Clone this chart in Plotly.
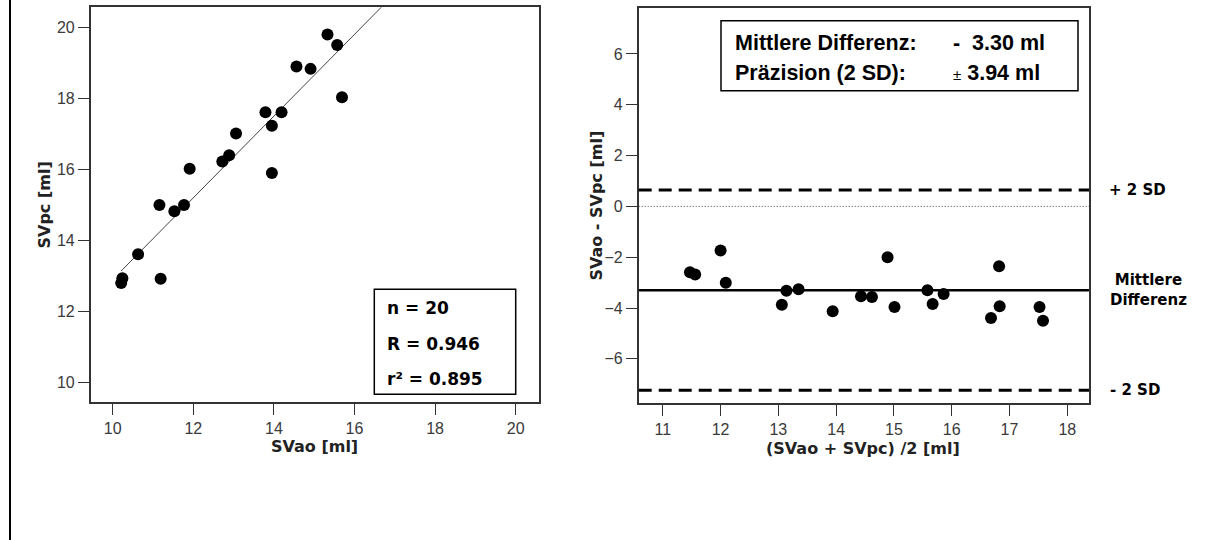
import numpy as np
import plotly.graph_objects as go

W, H = 1220, 540

# Schlagvolumen: Aortenfluss vs. Pulskontur (ml)
sv_ao = [15.33, 15.57, 14.56, 14.91, 15.69, 13.79, 14.19, 13.95, 13.06, 12.89,
         12.72, 11.91, 13.95, 11.16, 11.77, 11.53, 10.63, 11.19, 10.24, 10.21]
sv_pc = [19.80, 19.50, 18.90, 18.83, 18.03, 17.61, 17.61, 17.23, 17.01, 16.40,
         16.22, 16.02, 15.90, 15.00, 15.00, 14.82, 13.61, 12.92, 12.94, 12.80]

# Bland-Altman: Mittelwert und Differenz je Messung
ba_mean = [11.47, 11.56, 12.00, 12.09, 13.06, 13.14, 13.35, 13.94, 14.43, 14.62,
           14.89, 15.01, 15.58, 15.67, 15.86, 16.68, 16.82, 16.83, 17.52, 17.58]
ba_diff = [-2.59, -2.68, -1.74, -3.01, -3.87, -3.32, -3.26, -4.13, -3.54, -3.57,
           -2.00, -3.96, -3.30, -3.84, -3.45, -4.39, -2.36, -3.93, -3.96, -4.50]

mean_diff = -3.30
precision_2sd = 3.94

n_count = 20
r_value = 0.946
r_squared = 0.895

left_xticks = [10, 12, 14, 16, 18, 20]
left_yticks = [10, 12, 14, 16, 18, 20]
right_xticks = [11, 12, 13, 14, 15, 16, 17, 18]
right_yticks = [-6, -4, -2, 0, 2, 4, 6]


def fx(px):
    return px / W


def fy(py):
    return 1 - py / H


BOLD = "DejaVu Sans"
ARIAL = "Liberation Sans, Arial, sans-serif"
TICKFONT = dict(family=ARIAL, size=16, color="#3a3a3a")

slope, intercept = np.polyfit(sv_ao, sv_pc, 1)
fit_x = np.array([min(sv_ao), 17.5])
fit_y = slope * fit_x + intercept

fig = go.Figure()

fig.add_trace(go.Scatter(
    x=fit_x, y=fit_y, mode="lines",
    line=dict(color="#444", width=1), xaxis="x", yaxis="y",
    hoverinfo="skip", showlegend=False,
))
fig.add_trace(go.Scatter(
    x=sv_ao, y=sv_pc, mode="markers",
    marker=dict(color="black", size=12, line=dict(width=0)),
    xaxis="x", yaxis="y", showlegend=False,
))
fig.add_trace(go.Scatter(
    x=ba_mean, y=ba_diff, mode="markers",
    marker=dict(color="black", size=12, line=dict(width=0)),
    xaxis="x2", yaxis="y2", showlegend=False,
))

axis_common = dict(
    showline=True, mirror=True, linecolor="#333", linewidth=1.5,
    ticks="outside", ticklen=11, tickwidth=1, tickcolor="#333",
    tickfont=TICKFONT, showgrid=False, zeroline=False, automargin=False,
    fixedrange=True,
)

fig.update_layout(
    width=W, height=H,
    margin=dict(l=0, r=0, t=0, b=0),
    paper_bgcolor="white", plot_bgcolor="white",
    xaxis=dict(domain=[fx(90.7), fx(538.5)], range=[9.454, 20.566],
               tickvals=left_xticks, anchor="y", **axis_common),
    yaxis=dict(domain=[fy(402.0), fy(7.3)], range=[9.454, 20.563],
               tickvals=left_yticks, anchor="x", **axis_common),
    xaxis2=dict(domain=[fx(638.7), fx(1089.0)], range=[10.583, 18.376],
                tickvals=right_xticks, anchor="y2", **axis_common),
    yaxis2=dict(domain=[fy(403.3), fy(8.2)], range=[-7.75, 7.80],
                tickvals=right_yticks, anchor="x2", **axis_common),
)

shapes = []
# Rahmen links am Bildrand
shapes.append(dict(type="line", xref="paper", yref="paper",
                   x0=fx(10), x1=fx(10), y0=0, y1=1,
                   line=dict(color="black", width=2)))
# Nulllinie, Mittelwert und Grenzen (2 SD)
shapes.append(dict(type="line", xref="x2 domain", yref="y2",
                   x0=0, x1=1, y0=0, y1=0,
                   line=dict(color="#444", width=1, dash="1px,2px")))
shapes.append(dict(type="line", xref="x2 domain", yref="y2",
                   x0=0, x1=1, y0=mean_diff, y1=mean_diff,
                   line=dict(color="black", width=2.5)))
for lim in (mean_diff + precision_2sd, mean_diff - precision_2sd):
    shapes.append(dict(type="line", xref="x2 domain", yref="y2",
                       x0=0, x1=1, y0=lim, y1=lim,
                       line=dict(color="black", width=3, dash="13px,7px")))
# Textkästen
shapes.append(dict(type="rect", xref="paper", yref="paper",
                   x0=fx(374.3), x1=fx(515.7), y0=fy(394.3), y1=fy(289.3),
                   line=dict(color="black", width=1.5), fillcolor="white", layer="below"))
shapes.append(dict(type="rect", xref="paper", yref="paper",
                   x0=fx(721.0), x1=fx(1078.0), y0=fy(90.7), y1=fy(20.7),
                   line=dict(color="black", width=1.5), fillcolor="white", layer="below"))
fig.update_layout(shapes=shapes)

ann = []


def text(x, y, s, size, family=BOLD, xanchor="left", color="black", angle=0,
         xref="paper", yref="paper"):
    ann.append(dict(x=x, y=y, xref=xref, yref=yref, text=s, showarrow=False,
                    xanchor=xanchor, yanchor="middle", textangle=angle,
                    font=dict(family=family, size=size, color=color)))


# Achsentitel
text(fx(314.6), fy(446.5), "<b>SVao [ml]</b>", 16, xanchor="center", color="#222")
text(fx(43.5), fy(205.0), "<b>SVpc [ml]</b>", 16, xanchor="center", color="#222", angle=-90)
text(fx(862.5), fy(448.7), "<b>(SVao + SVpc) /2 [ml]</b>", 16, xanchor="center", color="#222")
text(fx(595.6), fy(206.0), "<b>SVao - SVpc [ml]</b>", 16, xanchor="center", color="#222", angle=-90)

# Kennzahlen der Korrelation
text(fx(385), fy(307.5), f"<b>n = {n_count}</b>", 17)
text(fx(385), fy(343.5), f"<b>R = {r_value:.3f}</b>", 17)
text(fx(385), fy(378.5), f"<b>r² = {r_squared:.3f}</b>", 17)

# Kennzahlen Bland-Altman
text(fx(733.3), fy(43.3), "<b>Mittlere Differenz:</b>", 21.5, family=ARIAL)
text(fx(733.3), fy(72.7), "<b>Präzision (2 SD):</b>", 21.5, family=ARIAL)
text(fx(950.7), fy(43.3), f"<b>-  {abs(mean_diff):.2f} ml</b>", 21.5, family=ARIAL)
text(fx(950.7), fy(72.7),
     f"<span style='font-size:15px'>±</span><b> {precision_2sd:.2f} ml</b>", 21.5, family=ARIAL)

# Beschriftung der Linien
text(fx(1106.7), mean_diff + precision_2sd, "<b>+ 2 SD</b>", 15, yref="y2")
text(fx(1108.0), mean_diff, "<b>Mittlere<br>Differenz</b>", 15, yref="y2")
text(fx(1108.0), mean_diff - precision_2sd, "<b>- 2 SD</b>", 15, yref="y2")

fig.update_layout(annotations=ann)

fig.write_html("out.html", include_plotlyjs=True, config={"displayModeBar": False})
